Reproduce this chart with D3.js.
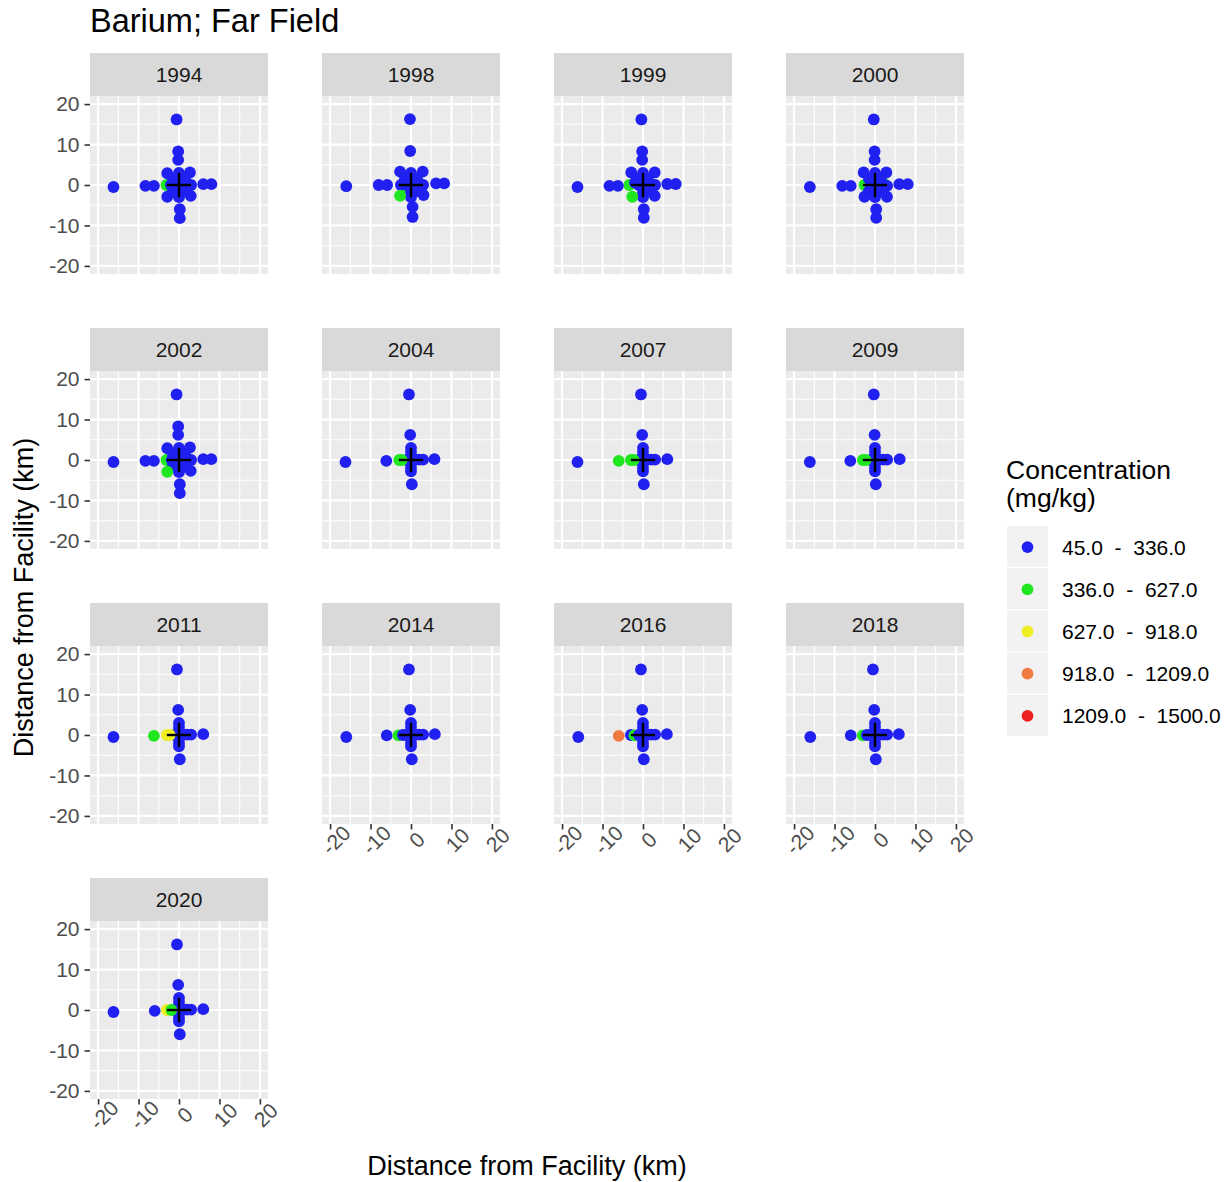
<!DOCTYPE html>
<html>
<head>
<meta charset="utf-8">
<script src="https://cdn.jsdelivr.net/npm/d3@7"></script>
<style>
  body { margin: 0; background: #fff; }
  svg { font-family: "Liberation Sans", Arial, sans-serif; }
  text { white-space: pre; }
</style>
</head>
<body>
<svg id="chart" width="1231" height="1182"></svg>
<script>
// Sampling years, one facet per year
const years = ["1994", "1998", "1999", "2000", "2002", "2004", "2007",
               "2009", "2011", "2014", "2016", "2018", "2020"];

// Concentration classes (mg/kg) and their colours
const bandLabels = ["45.0  -  336.0", "336.0  -  627.0", "627.0  -  918.0",
                    "918.0  -  1209.0", "1209.0  -  1500.0"];
const bandColors = ["#2020F0", "#20E620", "#EEEE22", "#F07A40", "#EE2020"];

// Axis ticks (km)
const majorTicks = [-20, -10, 0, 10, 20];
const minorTicks = [-15, -5, 5, 15];

// Stations per year: [east km, north km, concentration class]
const p1994 = [[-3.1, 0, 1], [-16.2, -0.5, 0], [-8.3, -0.2, 0], [-6.2, -0.2, 0],
  [-0.6, 16.2, 0], [-0.2, 8.3, 0], [-0.2, 6.2, 0], [6.0, 0.2, 0], [8.0, 0.2, 0],
  [0.2, -6.0, 0], [0.2, -8.2, 0], [-2.9, 2.9, 0], [2.7, 3.1, 0], [-2.9, -2.9, 0],
  [2.9, -2.7, 0], [-1.5, 1.5, 0], [1.5, 1.5, 0], [-1.5, -1.5, 0], [1.5, -1.5, 0],
  [0, 3, 0], [0, 2, 0], [0, 1, 0], [0, -3, 0], [0, -2, 0], [0, -1, 0],
  [3, 0, 0], [2, 0, 0], [1, 0, 0], [-2, 0, 0], [-1, 0, 0], [0, 0, 0]];
const p1998 = [[-1.5, -0.6, 1], [-16.0, -0.3, 0], [-8.0, 0, 0], [-5.9, 0, 0],
  [-0.25, 16.3, 0], [-0.2, 8.4, 0], [6.2, 0.4, 0], [8.2, 0.4, 0],
  [0.4, -5.4, 0], [0.4, -7.9, 0], [-2.7, 3.3, 0], [2.9, 3.3, 0], [3.1, -2.5, 0],
  [1.5, 1.5, 0], [-1.5, 1.5, 0], [1.5, -1.5, 0],
  [0, 3, 0], [0, 2, 0], [0, 1, 0], [0, -3, 0], [0, -2, 0], [0, -1, 0],
  [3, 0, 0], [2, 0, 0], [1, 0, 0], [-2.5, 0, 0], [-1, 0, 0], [0, 0, 0],
  [-2.7, -2.65, 1]];
const p1999 = [[-3.4, 0, 1], [1.5, 0.6, 1], [-16.2, -0.5, 0], [-8.3, -0.2, 0],
  [-6.2, -0.2, 0], [-0.4, 16.2, 0], [-0.2, 8.3, 0], [-0.2, 6.2, 0], [6.0, 0.25, 0],
  [8.1, 0.25, 0], [0.2, -6.0, 0], [0.2, -8.1, 0], [-2.9, 3.1, 0], [2.9, 3.1, 0],
  [2.9, -2.7, 0], [-1.5, 1.5, 0], [1.2, 1.5, 0], [1.5, -1.5, 0],
  [0, 3, 0], [0, 2, 0], [0, 1, 0], [0, -3, 0], [0, -2, 0], [0, -1, 0],
  [3, 0, 0], [2.2, -0.6, 0], [-2, 0.6, 0], [-1, 0, 0], [0, 0, 0], [-2.65, -2.9, 1]];
const p2000 = [[-2.6, 0, 1], [2.2, 0.4, 1], [-16.1, -0.5, 0], [-8.1, -0.2, 0],
  [-6.0, -0.2, 0], [-0.3, 16.2, 0], [-0.1, 8.3, 0], [-0.1, 6.2, 0], [6.0, 0.2, 0],
  [8.1, 0.2, 0], [0.3, -6.0, 0], [0.3, -8.1, 0], [-2.8, 3.1, 0], [2.8, 3.1, 0],
  [-2.6, -2.9, 0], [2.95, -2.9, 0], [-1.5, 1.5, 0], [1.5, 1.8, 0], [-1.5, -1.5, 0],
  [1.5, -1.5, 0], [0, 3, 0], [0, 2, 0], [0, 1, 0], [0, -3, 0], [0, -2, 0], [0, -1, 0],
  [3, -0.2, 0], [1, 0, 0], [-1, 0, 0], [0, 0, 0]];
const p2002 = [[-3.1, 0, 1], [-16.2, -0.5, 0], [-8.3, -0.2, 0], [-6.2, -0.2, 0],
  [-0.6, 16.2, 0], [-0.2, 8.3, 0], [-0.2, 6.2, 0], [6.0, 0.2, 0], [8.0, 0.2, 0],
  [0.2, -6.0, 0], [0.2, -8.2, 0], [-2.9, 2.9, 0], [2.7, 3.1, 0],
  [2.9, -2.7, 0], [-1.5, 1.5, 0], [1.5, 1.5, 0], [-1.5, -1.5, 0], [1.5, -1.5, 0],
  [0, 3, 0], [0, 2, 0], [0, 1, 0], [0, -3, 0], [0, -2, 0], [0, -1, 0],
  [3, 0, 0], [2, 0, 0], [1, 0, 0], [-1.8, 0, 0], [-1, 0, 0], [0, 0, 0],
  [-2.9, -2.9, 1]];
const p2004 = [[-16.2, -0.5, 0], [-6.1, -0.2, 0], [-1, 0, 0],
  [-0.5, 16.2, 0], [-0.2, 6.2, 0], [0, 3, 0], [0, 2, 0], [0, 1, 0],
  [1, 0.1, 0], [2, 0.1, 0], [3, 0.1, 0], [5.8, 0.2, 0],
  [0, -1, 0], [0, -2, 0], [0, -2.8, 0], [0.2, -6.0, 0], [0, 0, 0],
  [-2.9, 0, 1], [-2.3, 0, 1]];
const p2007 = [[-16.2, -0.5, 0], [-6.0, -0.2, 1], [-1, 0, 0],
  [-0.5, 16.2, 0], [-0.2, 6.2, 0], [0, 3, 0], [0, 2, 0], [0, 1, 0],
  [1, 0.1, 0], [2, 0.1, 0], [3, 0.1, 0], [6.0, 0.2, 0],
  [0, -1, 0], [0, -2, 0], [0, -2.8, 0], [0.2, -6.0, 0], [0, 0, 0],
  [-3, 0, 1], [-2.3, 0, 1]];
const p2009 = [[-16.1, -0.5, 0], [-6.1, -0.2, 0], [-1, 0, 0],
  [-0.3, 16.2, 0], [-0.1, 6.2, 0], [0, 3, 0], [0, 2, 0], [0, 1, 0],
  [1, 0.1, 0], [2, 0.1, 0], [3, 0.1, 0], [6.1, 0.2, 0],
  [0, -1, 0], [0, -2, 0], [0, -2.8, 0], [0.2, -6.0, 0], [0, 0, 0],
  [-3, 0, 1], [-2.3, 0, 1]];
const p2011 = [[-16.2, -0.5, 0], [-6.2, -0.2, 1], [-1, 0, 0],
  [-0.5, 16.2, 0], [-0.2, 6.2, 0], [0, 3, 0], [0, 2, 0], [0, 1, 0],
  [1, 0.1, 0], [2, 0.1, 0], [3, 0.1, 0], [6.0, 0.2, 0],
  [0, -1, 0], [0, -2, 0], [0, -2.8, 0], [0.2, -6.0, 0], [0, 0, 0],
  [-3, 0, 2], [-2.3, 0, 2]];
const p2014 = [[-16.0, -0.5, 0], [-6.0, -0.1, 0], [-3.1, -0.1, 1], [-2, 0, 0], [-1, 0, 0],
  [-0.5, 16.2, 0], [-0.2, 6.2, 0], [0, 3, 0], [0, 2, 0], [0, 1, 0],
  [1, 0.1, 0], [2, 0.1, 0], [3, 0.1, 0], [5.9, 0.2, 0],
  [0, -1, 0], [0, -2, 0], [0, -2.8, 0], [0.2, -6.0, 0], [0, 0, 0]];
const p2016 = [[-16.0, -0.5, 0], [-6.0, -0.2, 3], [-3, 0, 0], [-2.1, -0.1, 1], [-1, 0, 0],
  [-0.5, 16.2, 0], [-0.2, 6.2, 0], [0, 3, 0], [0, 2, 0], [0, 1, 0],
  [1, 0.1, 0], [2, 0.1, 0], [3, 0.1, 0], [5.9, 0.2, 0],
  [0, -1, 0], [0, -2, 0], [0, -2.8, 0], [0.2, -6.0, 0], [0, 0, 0]];
const p2018 = [[-16.0, -0.5, 0], [-6.0, -0.1, 0], [-3, -0.1, 1], [-2, 0, 0], [-1, 0, 0],
  [-0.5, 16.2, 0], [-0.2, 6.2, 0], [0, 3, 0], [0, 2, 0], [0, 1, 0],
  [1, 0.1, 0], [2, 0.1, 0], [3, 0.1, 0], [5.9, 0.2, 0],
  [0, -1, 0], [0, -2, 0], [0, -2.8, 0], [0.2, -6.0, 0], [0, 0, 0]];
const p2020 = [[-16.2, -0.5, 0], [-6.0, -0.2, 0], [-1, 0, 0],
  [-0.5, 16.2, 0], [-0.2, 6.2, 0], [0, 3, 0], [0, 2, 0], [0, 1, 0],
  [1, 0.1, 0], [2, 0.1, 0], [3, 0.1, 0], [6.0, 0.2, 0],
  [0, -1, 0], [0, -2, 0], [0, -2.8, 0], [0.2, -6.0, 0], [0, 0, 0],
  [-3.0, 0, 2], [-1.9, 0, 1]];

const pointsByYear = [p1994, p1998, p1999, p2000, p2002, p2004, p2007,
                      p2009, p2011, p2014, p2016, p2018, p2020];

// Facility marker: a cross of +/- 3 km through the origin
const crossArm = 3;

// ---- layout ----
const svg = d3.select("#chart");
const nCols = 4;
const colX = [90, 322, 554, 786];
const rowY = [53, 328, 603, 878];
const stripH = 43, panelW = 178, panelH = 178;
const domain = [-22, 22];
const tickFont = 21;
const plainNum = d => String(d);   // ASCII hyphen for negatives

const x = d3.scaleLinear().domain(domain).range([0, panelW]);
const y = d3.scaleLinear().domain(domain).range([panelH, 0]);
const color = d3.scaleOrdinal().domain(d3.range(bandLabels.length)).range(bandColors);

// Title
svg.append("text").attr("x", 90).attr("y", 32)
  .attr("font-size", 32.5).attr("fill", "#000").text("Barium; Far Field");

years.forEach((yr, i) => {
  const col = i % nCols, row = Math.floor(i / nCols);
  const gx = colX[col], gy = rowY[row];

  // strip
  const strip = svg.append("g").attr("transform", `translate(${gx},${gy})`);
  strip.append("rect").attr("width", panelW).attr("height", stripH).attr("fill", "#D9D9D9");
  strip.append("text").attr("x", panelW / 2).attr("y", stripH / 2 + 7.6)
    .attr("text-anchor", "middle").attr("font-size", 21).attr("fill", "#1A1A1A").text(yr);

  const g = svg.append("g").attr("transform", `translate(${gx},${gy + stripH})`);
  g.append("rect").attr("width", panelW).attr("height", panelH).attr("fill", "#EBEBEB");

  // grid
  g.selectAll(".vmin").data(minorTicks).join("line").attr("class", "vmin")
    .attr("x1", d => x(d)).attr("x2", d => x(d)).attr("y1", 0).attr("y2", panelH)
    .attr("stroke", "#fff").attr("stroke-width", 1.1);
  g.selectAll(".hmin").data(minorTicks).join("line").attr("class", "hmin")
    .attr("y1", d => y(d)).attr("y2", d => y(d)).attr("x1", 0).attr("x2", panelW)
    .attr("stroke", "#fff").attr("stroke-width", 1.1);
  g.selectAll(".vmaj").data(majorTicks).join("line").attr("class", "vmaj")
    .attr("x1", d => x(d)).attr("x2", d => x(d)).attr("y1", 0).attr("y2", panelH)
    .attr("stroke", "#fff").attr("stroke-width", 2.2);
  g.selectAll(".hmaj").data(majorTicks).join("line").attr("class", "hmaj")
    .attr("y1", d => y(d)).attr("y2", d => y(d)).attr("x1", 0).attr("x2", panelW)
    .attr("stroke", "#fff").attr("stroke-width", 2.2);

  // stations
  g.selectAll(".pt").data(pointsByYear[i]).join("circle").attr("class", "pt")
    .attr("cx", d => x(d[0])).attr("cy", d => y(d[1])).attr("r", 5.9)
    .attr("fill", d => color(d[2]));

  // facility cross
  g.append("line").attr("x1", x(-crossArm)).attr("x2", x(crossArm))
    .attr("y1", y(0)).attr("y2", y(0)).attr("stroke", "#000").attr("stroke-width", 2.4);
  g.append("line").attr("x1", x(0)).attr("x2", x(0))
    .attr("y1", y(-crossArm)).attr("y2", y(crossArm)).attr("stroke", "#000").attr("stroke-width", 2.4);

  // y axis on the first column
  if (col === 0) {
    const ya = g.append("g").call(d3.axisLeft(y).tickValues(majorTicks)
      .tickFormat(plainNum).tickSize(5.5).tickPadding(5));
    ya.select(".domain").remove();
    ya.selectAll(".tick line").attr("stroke", "#333").attr("stroke-width", 1.6);
    ya.selectAll(".tick text").attr("font-size", tickFont).attr("fill", "#4D4D4D")
      .attr("font-family", "Liberation Sans, Arial, sans-serif");
  }
  // x axis on the bottom panel of each column, labels tilted 45 degrees
  if (i + nCols >= years.length) {
    const xa = g.append("g").attr("transform", `translate(0,${panelH})`)
      .call(d3.axisBottom(x).tickValues(majorTicks).tickFormat(plainNum).tickSize(5.5));
    xa.select(".domain").remove();
    xa.selectAll(".tick line").attr("stroke", "#333").attr("stroke-width", 1.6);
    xa.selectAll(".tick text").attr("font-size", tickFont).attr("fill", "#4D4D4D")
      .attr("font-family", "Liberation Sans, Arial, sans-serif")
      .attr("y", 0).attr("dy", "0.72em").attr("text-anchor", "middle")
      .attr("transform", "translate(0,10.5) rotate(-45)");
  }
});

// Axis titles
svg.append("text").attr("x", (colX[0] + colX[3] + panelW) / 2).attr("y", 1175)
  .attr("text-anchor", "middle").attr("font-size", 27).attr("fill", "#000")
  .text("Distance from Facility (km)");
svg.append("text").attr("transform", `translate(33,${(rowY[0] + stripH + rowY[3] + stripH + panelH) / 2}) rotate(-90)`)
  .attr("text-anchor", "middle").attr("font-size", 27).attr("fill", "#000")
  .text("Distance from Facility (km)");

// Legend
const lg = svg.append("g").attr("transform", "translate(1006,0)");
lg.append("text").attr("x", 0).attr("y", 479).attr("font-size", 26.5).text("Concentration");
lg.append("text").attr("x", 0).attr("y", 507).attr("font-size", 26.5).text("(mg/kg)");
const keyTop = 526, keyH = 42.2, keyW = 41;
const keys = lg.selectAll(".key").data(bandLabels).join("g").attr("class", "key")
  .attr("transform", (d, k) => `translate(0,${keyTop + k * keyH})`);
keys.append("rect").attr("x", 1).attr("width", keyW).attr("height", keyH - 1.2).attr("fill", "#F2F2F2");
keys.append("circle").attr("cx", 1 + keyW / 2).attr("cy", keyH / 2).attr("r", 5.9)
  .attr("fill", (d, k) => color(k));
keys.append("text").attr("x", 56).attr("y", keyH / 2 + 7.5).attr("font-size", 21)
  .attr("fill", "#000").text(d => d);
</script>
</body>
</html>
